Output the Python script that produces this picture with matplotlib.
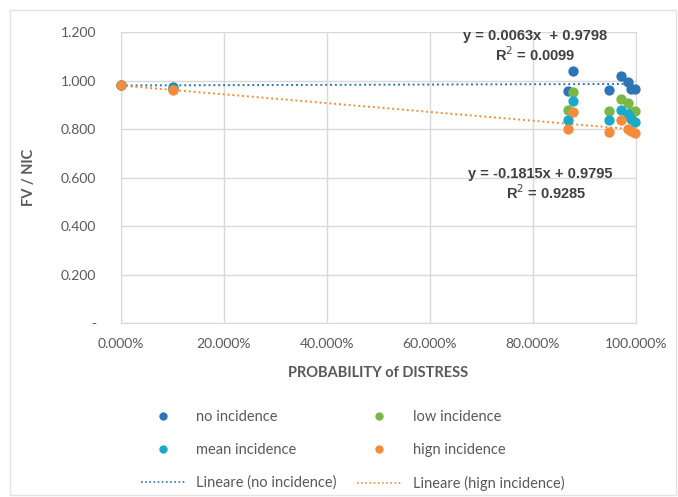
import matplotlib.pyplot as plt
import numpy as np
from matplotlib.lines import Line2D
from matplotlib.patches import Rectangle
from matplotlib.ticker import FuncFormatter

# probability of distress per scenario (same x positions for each series)
prob_no = [0.0, 0.10, 0.868, 0.877, 0.948, 0.970, 0.985, 0.990, 0.998]
fv_no = [0.980, 0.975, 0.958, 1.040, 0.962, 1.019, 0.996, 0.965, 0.965]

prob_low = [0.0, 0.10, 0.877, 0.868, 0.948, 0.970, 0.985, 0.990, 0.998]
fv_low = [0.980, 0.965, 0.954, 0.878, 0.875, 0.924, 0.906, 0.870, 0.873]

prob_mean = [0.0, 0.10, 0.877, 0.868, 0.948, 0.970, 0.985, 0.990, 0.998]
fv_mean = [0.980, 0.965, 0.915, 0.839, 0.836, 0.879, 0.862, 0.840, 0.828]

prob_high = [0.0, 0.10, 0.877, 0.868, 0.948, 0.970, 0.985, 0.990, 0.998]
fv_high = [0.980, 0.960, 0.869, 0.800, 0.789, 0.836, 0.800, 0.790, 0.785]

# trendline coefficients as printed on the chart
slope_no, icpt_no, r2_no = 0.0063, 0.9798, 0.0099
slope_high, icpt_high, r2_high = -0.1815, 0.9795, 0.9285

c_no = '#2E75B6'
c_low = '#7AB648'
c_mean = '#1AAAC8'
c_high = '#F68B3C'
grey = '#595959'

plt.rcParams['font.family'] = ['Lato', 'DejaVu Sans']

fig = plt.figure(figsize=(6.78, 4.97), dpi=100)
ax = fig.add_axes([0.1785, 0.350, 0.7595, 0.5855])

ms = 55
ax.scatter(prob_no, fv_no, s=ms, color=c_no, zorder=3, clip_on=False, linewidths=0)
ax.scatter(prob_low, fv_low, s=ms, color=c_low, zorder=3, clip_on=False, linewidths=0)
ax.scatter(prob_mean, fv_mean, s=ms, color=c_mean, zorder=3, clip_on=False, linewidths=0)
ax.scatter(prob_high, fv_high, s=ms, color=c_high, zorder=3, clip_on=False, linewidths=0)

xs = np.array([0.0, max(prob_high)])
ax.plot(xs, slope_no * xs + icpt_no, color=c_no, linestyle=(0, (1, 1.5)), linewidth=1.4, zorder=2)
ax.plot(xs, slope_high * xs + icpt_high, color=c_high, linestyle=(0, (1, 1.5)), linewidth=1.4, zorder=2)

ax.set_xlim(0, 1)
ax.set_ylim(0, 1.2)
ax.set_xticks(np.arange(0, 1.01, 0.2))
ax.set_yticks(np.arange(0, 1.21, 0.2))
ax.xaxis.set_major_formatter(FuncFormatter(lambda v, p: f'{v * 100:.3f}%'))
ax.yaxis.set_major_formatter(FuncFormatter(lambda v, p: '-' if abs(v) < 1e-9 else f'{v:.3f}'))
ax.tick_params(axis='x', length=0, labelsize=10, colors=grey, pad=11)
ax.tick_params(axis='y', length=0, labelsize=10, colors=grey, pad=18)
ax.grid(True, color='#D9D9D9', linewidth=1)
ax.set_axisbelow(True)
for s in ax.spines.values():
    s.set_color('#D9D9D9')

ax.set_xlabel('PROBABILITY of DISTRESS', fontsize=10.5, fontweight='bold', color=grey, labelpad=11)
ax.set_ylabel('FV / NIC', fontsize=10.5, fontweight='bold', color=grey, labelpad=18)

eqfont = dict(fontsize=10.5, fontweight='bold', color='#404040', family=['Liberation Sans', 'DejaVu Sans'])
ax.text(0.805, 1.185, f'y = {slope_no:.4f}x  + {icpt_no:.4f}', ha='center', va='center', **eqfont)
ax.text(0.805, 1.108, f'R$^2$ = {r2_no:.4f}', ha='center', va='center', **eqfont)
ax.text(0.815, 0.615, f'y = {slope_high:.4f}x + {icpt_high:.4f}', ha='center', va='center', **eqfont)
ax.text(0.825, 0.537, f'R$^2$ = {r2_high:.4f}', ha='center', va='center', **eqfont)

dot = dict(marker='o', linestyle='none', markersize=6, markeredgewidth=0)
handles = [
    Line2D([], [], color=c_no, **dot),
    Line2D([], [], color=c_mean, **dot),
    Line2D([], [], color=c_no, linestyle=(0, (1, 1.5)), linewidth=1.2),
    Line2D([], [], color=c_low, **dot),
    Line2D([], [], color=c_high, **dot),
    Line2D([], [], color=c_high, linestyle=(0, (1, 1.5)), linewidth=1.2),
]
labels = ['no incidence', 'mean incidence', 'Lineare (no incidence)',
          'low incidence', 'hign incidence', 'Lineare (hign incidence)']
leg = fig.legend(handles, labels, ncol=2, loc='center', bbox_to_anchor=(0.52, 0.094),
                 frameon=False, fontsize=10.5, labelcolor=grey, handlelength=3.0,
                 columnspacing=1.4, labelspacing=1.3, handletextpad=0.8)

fig.patches.append(Rectangle((0.015, 0.004), 0.982, 0.976, transform=fig.transFigure,
                             fill=False, edgecolor='#E3E3E3', linewidth=1))

plt.savefig('out.png', dpi=100)
plt.close()
